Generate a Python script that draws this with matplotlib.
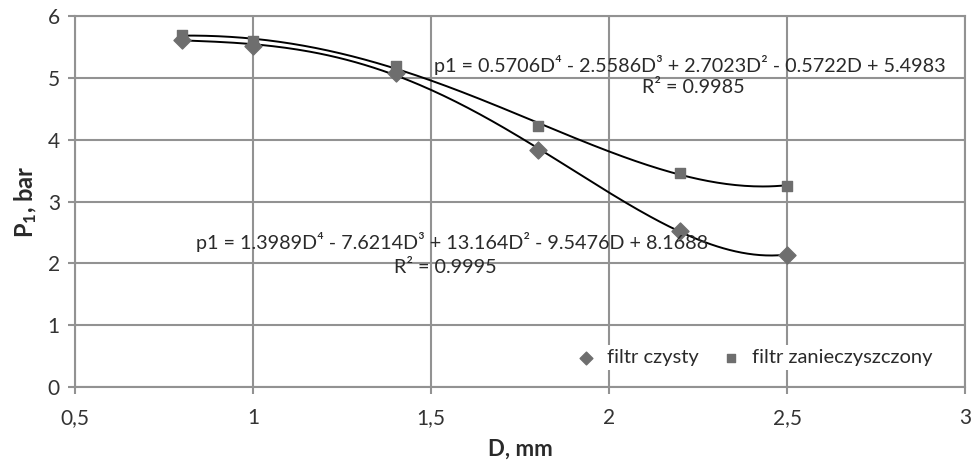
import numpy as np
import matplotlib.pyplot as plt
from matplotlib.ticker import FixedLocator, FixedFormatter

plt.rcParams['font.family'] = ['Lato', 'DejaVu Sans']
plt.rcParams['mathtext.fontset'] = 'custom'
plt.rcParams['mathtext.rm'] = 'Lato'
plt.rcParams['mathtext.bf'] = 'Lato:bold'

# data
D = [0.8, 1.0, 1.4, 1.8, 2.2, 2.5]
p_clean = [5.62, 5.52, 5.08, 3.83, 2.53, 2.14]
p_dirty = [5.70, 5.60, 5.20, 4.23, 3.46, 3.26]

x_ticks = [0.5, 1, 1.5, 2, 2.5, 3]
x_labels = ['0,5', '1', '1,5', '2', '2,5', '3']
y_ticks = [0, 1, 2, 3, 4, 5, 6]

eq_dirty = 'p1 = 0.5706D\u2074 - 2.5586D\u00b3 + 2.7023D\u00b2 - 0.5722D + 5.4983'
r2_dirty = 'R\u00b2 = 0.9985'
eq_clean = 'p1 = 1.3989D\u2074 - 7.6214D\u00b3 + 13.164D\u00b2 - 9.5476D + 8.1688'
r2_clean = 'R\u00b2 = 0.9995'

grid_c = '#929292'
mark_c = '#6e6e6e'
txt_c = '#2a2a2a'

fig = plt.figure(figsize=(9.75, 4.62), dpi=100)
ax = fig.add_axes([0.077, 0.162, 0.913, 0.803])

# polynomial trendlines (order 4), like the spreadsheet did
xs = np.linspace(min(D), max(D), 200)
for y in (p_clean, p_dirty):
    c = np.polyfit(D, y, 4)
    ax.plot(xs, np.polyval(c, xs), color='black', lw=1.4, zorder=3)

ax.scatter(D, p_clean, marker='D', s=75, color=mark_c, zorder=4, label='filtr czysty')
ax.scatter(D, p_dirty, marker='s', s=55, color=mark_c, zorder=4, label='filtr zanieczyszczony')

ax.set_xlim(0.5, 3)
ax.set_ylim(0, 6)
ax.xaxis.set_major_locator(FixedLocator(x_ticks))
ax.xaxis.set_major_formatter(FixedFormatter(x_labels))
ax.set_yticks(y_ticks)
ax.grid(True, color=grid_c, lw=1.5, zorder=0)
ax.set_axisbelow(True)
for s in ax.spines.values():
    s.set_color(grid_c)
    s.set_linewidth(1.5)
ax.tick_params(colors=grid_c, width=1.5, length=5, labelsize=15, labelcolor='#333333')
ax.tick_params(axis='x', pad=10)
ax.tick_params(axis='y', pad=6)

ax.set_xlabel('D, mm', fontsize=16, fontweight='bold', color=txt_c, labelpad=8)
ax.set_ylabel(r'$\mathbf{P_1}$, bar', fontsize=17, fontweight='bold', color=txt_c, labelpad=6)

ax.text(2.227, 5.21, eq_dirty, ha='center', va='center', fontsize=14.2, color=txt_c, zorder=5)
ax.text(2.235, 4.84, r2_dirty, ha='center', va='center', fontsize=14.2, color=txt_c, zorder=5)
ax.text(1.559, 2.34, eq_clean, ha='center', va='center', fontsize=14.2, color=txt_c, zorder=5)
ax.text(1.54, 1.94, r2_clean, ha='center', va='center', fontsize=14.2, color=txt_c, zorder=5)

leg = ax.legend(loc='lower right', bbox_to_anchor=(0.975, 0.03), ncol=2, frameon=True,
                fontsize=14.5, handletextpad=0.05, columnspacing=0.6, markerscale=0.75,
                borderaxespad=0.3, borderpad=0.2)
leg.get_frame().set_facecolor('white')
leg.get_frame().set_edgecolor('none')
leg.get_frame().set_alpha(1)
for t in leg.get_texts():
    t.set_color(txt_c)

fig.savefig('out.png', dpi=100)
